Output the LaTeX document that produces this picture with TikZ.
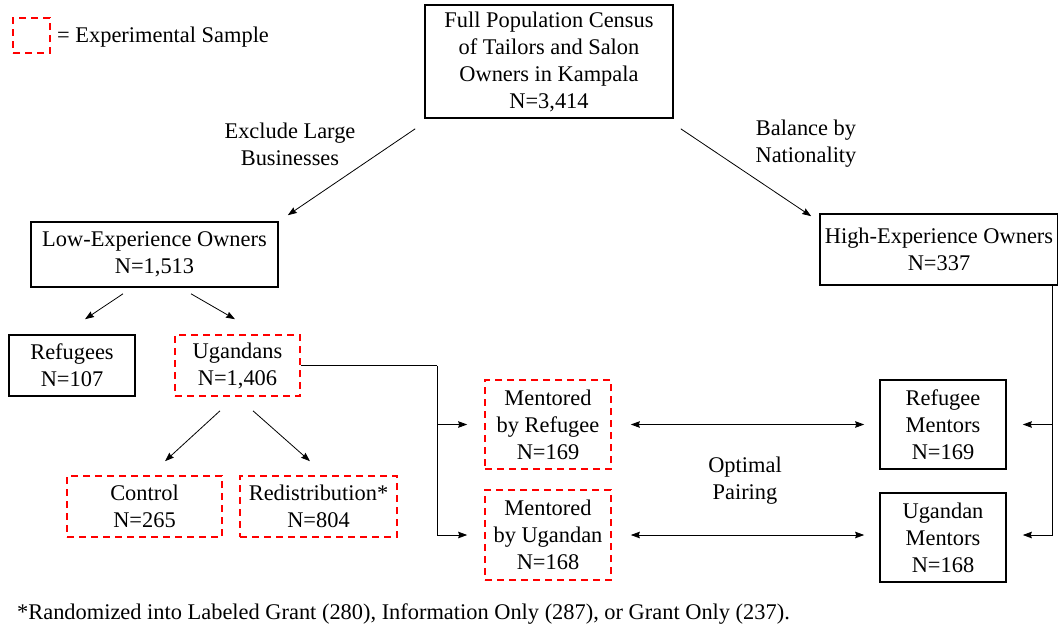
\documentclass[tikz,border=0pt]{standalone}
\usepackage{fontspec}
\setmainfont{Liberation Serif}
\usetikzlibrary{arrows.meta}
\begin{document}
\begin{tikzpicture}[x=1pt,y=-1pt,
  font=\fontsize{22.4pt}{27pt}\selectfont,
  box/.style={draw=black, line width=1.6pt, inner sep=0pt, align=center},
  exbox/.style={draw=red, line width=1.6pt, dash pattern=on 7pt off 5pt, inner sep=0pt, align=center},
  lbl/.style={inner sep=0pt, align=center},
  arr/.style={line width=0.8pt, -{Stealth[length=9pt,width=6.5pt,inset=1pt]}},
  darr/.style={line width=0.8pt, {Stealth[length=9pt,width=6.5pt,inset=1pt]}-{Stealth[length=9pt,width=6.5pt,inset=1pt]}},
  ln/.style={line width=0.8pt}]
\useasboundingbox (0,0) rectangle (1058,630);
% legend
\node[exbox, minimum width=37pt, minimum height=35pt] (leg) at (31.5,35.5) {};
\node[lbl, anchor=west] (legt) at (57,37) {= Experimental Sample};
% boxes
\node[box, minimum width=248pt, minimum height=113pt] (top) at (549,61.5) {Full Population Census\\of Tailors and Salon\\Owners in Kampala\\N=3,414};
\node[box, minimum width=247pt, minimum height=65pt] (low) at (154.5,254.5) {Low-Experience Owners\\N=1,513};
\node[box, minimum width=238pt, minimum height=71pt] (high) at (939,249.5) {High-Experience Owners\\N=337};
\node[box, minimum width=126pt, minimum height=61pt] (ref) at (72,365.5) {Refugees\\N=107};
\node[exbox, minimum width=125pt, minimum height=61pt] (ug) at (237.5,365.5) {Ugandans\\N=1,406};
\node[exbox, minimum width=155pt, minimum height=61pt] (ctl) at (144.5,506.5) {Control\\N=265};
\node[exbox, minimum width=157pt, minimum height=61pt] (red) at (318.5,506.5) {Redistribution*\\N=804};
\node[exbox, minimum width=126pt, minimum height=89pt] (mr) at (548,424.5) {Mentored\\by Refugee\\N=169};
\node[exbox, minimum width=126pt, minimum height=90pt] (mu) at (548,535) {Mentored\\by Ugandan\\N=168};
\node[box, minimum width=126pt, minimum height=89pt] (rm) at (943,424.5) {Refugee\\Mentors\\N=169};
\node[box, minimum width=126pt, minimum height=89pt] (um) at (943,537.5) {Ugandan\\Mentors\\N=168};
% labels
\node[lbl] (l1) at (290,144) {Exclude Large\\Businesses};
\node[lbl] (l2) at (806,144) {Balance by\\Nationality};
\node[lbl] (l3) at (745,481) {Optimal\\Pairing};
\node[lbl, anchor=west] (fn) at (17,614) {*Randomized into Labeled Grant (280), Information Only (287), or Grant Only (237).};
% arrows
\draw[arr] ([shift={(-9,10)}]top.south west) -- ([shift={(9,-6)}]low.north east);
\draw[arr] ([shift={(7,10)}]top.south east) -- ([shift={(-8,3)}]high.north west);
\draw[arr] ([shift={(-31.5,6)}]low.south) -- ([shift={(13,-15)}]ref.north);
\draw[arr] ([shift={(36.5,6)}]low.south) -- ([shift={(-2.5,-15)}]ug.north);
\draw[arr] ([shift={(-17.5,14)}]ug.south) -- ([shift={(20.5,-14)}]ctl.north);
\draw[arr] ([shift={(15.5,14)}]ug.south) -- ([shift={(-8.5,-14)}]red.north);
% ugandans to mentored
\coordinate (j) at (437,365.5);
\draw[ln] (ug.east) -- (j);
\draw[arr, shorten >=17pt] (j) |- (mu.west);
\draw[arr, shorten >=17pt] (j |- mr.west) -- (mr.west);
% pairing
\draw[darr, shorten <=19pt, shorten >=15pt] (mr.east) -- (rm.west);
\draw[darr, shorten <=19pt, shorten >=15pt] (mr.east |- mu.east) -- (rm.west |- mu.east);
% right side
\coordinate (r) at (1052,285);
\draw[arr, shorten >=16pt] (r) |- (um.east |- mu.east);
\draw[arr, shorten >=16pt] (r |- rm.east) -- (rm.east);
\end{tikzpicture}
\end{document}
